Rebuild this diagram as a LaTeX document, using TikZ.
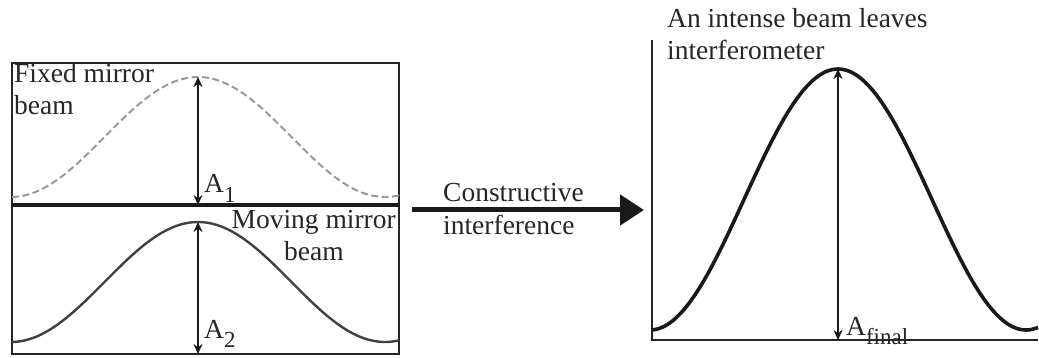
\documentclass[tikz,border=0pt]{standalone}
\usepackage{fontspec}
\setmainfont{Liberation Serif}
\usetikzlibrary{arrows.meta}
\newcommand{\subtxt}[1]{\raisebox{-0.36em}{\fontsize{23}{23}\selectfont #1}}
\begin{document}
\begin{tikzpicture}[x=1pt,y=-1pt,
  lbl/.style={font=\fontsize{27.5}{32}\selectfont, inner sep=0pt, text=black!85},
  frame/.style={draw=black!85, line width=2.5pt},
  amp/.style={{Stealth[length=10pt,width=9pt]}-{Stealth[length=10pt,width=9pt]}, line width=2.8pt, draw=black!90},
  bigarrow/.style={-{Triangle[length=24pt,width=30pt]}, line width=5pt, draw=black!90}]
\useasboundingbox (0,0) rectangle (1039,358);
% left panel
\draw[frame] (12,63) rectangle (399,354);
\draw[draw=black!90, line width=3.5pt] (12,205) -- (399,205);
\draw[gray!80, line width=2pt, dash pattern=on 7pt off 3.5pt]
  plot[domain=12:399, samples=120] (\x, {137 - 60*cos((\x-198)/187*180)});
\draw[black!75, line width=2.4pt]
  plot[domain=12:399, samples=120] (\x, {282 - 60*cos((\x-198)/187*180)});
\coordinate (p1) at (198,77);
\coordinate (b1) at (198,205);
\coordinate (p2) at (198,222);
\coordinate (b2) at (198,354);
\draw[amp] (p1) -- (b1);
\draw[amp] (p2) -- (b2);
\node[lbl, anchor=base west] (fixed) at (14,83) {Fixed mirror};
\node[lbl, anchor=base west] (fixedb) at (14,115) {beam};
\node[lbl, anchor=base west] (a1) at (204,193) {A\subtxt{1}};
\node[lbl, anchor=base east] (moving) at (396,229) {Moving mirror};
\node[lbl, anchor=base] (movingb) at (314,261) {beam};
\node[lbl, anchor=base west] (a2) at (204,338) {A\subtxt{2}};
% middle arrow
\coordinate (s) at (412,210);
\coordinate (e) at (644,210);
\draw[bigarrow] (s) -- (e);
\node[lbl, anchor=base west] (constr) at (443,202) {Constructive};
\node[lbl, anchor=base west] (interf) at (443,235) {interference};
% right panel
\coordinate (o) at (652,340);
\coordinate (yt) at (652,40);
\coordinate (xr) at (1038,340);
\draw[black!85, line width=2.2pt] (yt) -- (o) -- (xr);
\draw[black!90, line width=3.6pt]
  plot[domain=652:1038, samples=140] (\x, {199.5 - 130.5*cos((\x-838)/188*180)});
\coordinate (p3) at (838,69);
\coordinate (b3) at (838,340);
\draw[amp] (p3) -- (b3);
\node[lbl, anchor=base west] (title) at (667,28) {An intense beam leaves};
\node[lbl, anchor=base west] (title2) at (667,60) {interferometer};
\node[lbl, anchor=base west] (af) at (846,335) {A\subtxt{final}};
\end{tikzpicture}
\end{document}
